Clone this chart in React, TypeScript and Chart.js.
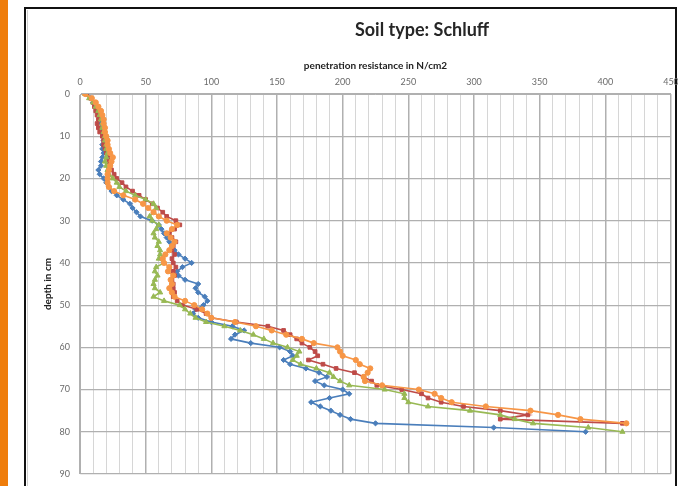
import React, { useEffect, useRef } from "react";
import { Chart, registerables } from "chart.js";

Chart.register(...registerables);

const chartTitle = "Soil type: Schluff";
const xAxisTitle = "penetration resistance in N/cm2";
const yAxisTitle = "depth in cm";

const xMin = 0;
const xMax = 450;
const xMinorStep = 10;
const xLabelStep = 50;
const yMin = 0;
const yMax = 90;
const yStep = 10;

const depthCm = [
  0, 1, 2, 3, 4, 5, 6, 7, 8, 9,
  10, 11, 12, 13, 14, 15, 16, 17, 18, 19,
  20, 21, 22, 23, 24, 25, 26, 27, 28, 29,
  30, 31, 32, 33, 34, 35, 36, 37, 38, 39,
  40, 41, 42, 43, 44, 45, 46, 47, 48, 49,
  50, 51, 52, 53, 54, 55, 56, 57, 58, 59,
  60, 61, 62, 63, 64, 65, 66, 67, 68, 69,
  70, 71, 72, 73, 74, 75, 76, 77, 78, 79, 80,
];

const seriesBlue = [
  5, 8, 10, 12, 13, 15, 16, 16, 17, 17,
  18, 18, 17, 17, 18, 17, 16, 16, 14, 15,
  18, 20, 22, 24, 28, 33, 38, 40, 43, 46,
  55, 60, 62, 64, 66, 68, 70, 72, 75, 80,
  85, 78, 74, 75, 80, 90, 88, 90, 95, 97,
  94, 88, 86, 90, 100, 116, 125, 118, 115, 130,
  152, 160, 162, 155, 160, 172, 182, 188, 179, 186,
  200, 205, 190, 176, 183, 191, 198, 206, 225, 315, 385,
];

const seriesRed = [
  5, 8, 10, 11, 12, 13, 14, 13, 14, 15,
  17, 18, 18, 19, 20, 21, 22, 23, 24, 26,
  28, 32, 35, 40, 45, 50, 55, 59, 63, 66,
  73, 76, 72, 68, 70, 73, 71, 70, 72, 70,
  71, 73, 71, 72, 70, 71, 71, 72, 71, 74,
  78, 89, 96, 100, 119, 143, 155, 160, 165, 169,
  175, 179, 181, 174, 185, 195, 209, 216, 222, 226,
  245, 260, 265, 275, 292, 320, 341, 320, 413,
];

const seriesGreen = [
  4, 7, 10, 12, 14, 15, 16, 17, 17, 18,
  19, 19, 20, 20, 21, 20, 19, 20, 21, 22,
  25, 28, 30, 35, 42, 50, 56, 58, 56, 53,
  55, 60, 58, 56, 57, 60, 59, 61, 61, 60,
  64, 58, 57, 59, 57, 56, 57, 61, 56, 64,
  76, 80, 84, 88, 96, 110, 122, 132, 140, 147,
  158, 167, 165, 162, 168, 180, 190, 193, 198, 205,
  232, 247, 247, 250, 265, 297, 320, 331, 345, 387, 413,
];

const seriesOrange = [
  4, 9, 12, 14, 16, 17, 18, 18, 19, 19,
  20, 21, 21, 22, 23, 25, 24, 23, 22, 21,
  21, 21, 22, 26, 33, 42, 48, 52, 56, 60,
  66, 74, 70, 66, 69, 72, 70, 68, 65, 63,
  64, 68, 67, 71, 69, 70, 68, 70, 72, 80,
  87, 93, 97, 100, 118, 134, 146, 157, 169, 178,
  196, 198, 200, 210, 213, 221, 219, 216, 217, 230,
  258, 270, 275, 283, 309, 343, 364, 381, 416,
];

const toPoints = (values: number[]) =>
  values.map((v, i) => ({ x: v, y: depthCm[i] }));

const FONT = "Lato, 'Liberation Sans', sans-serif";

const framePlugin = {
  id: "frameAndTitle",
  beforeDraw(chart: any) {
    const { ctx, width, height } = chart;
    ctx.save();
    ctx.fillStyle = "#ffffff";
    ctx.fillRect(0, 0, width, height);
    ctx.fillStyle = "#EF7D0B";
    ctx.fillRect(0, 0, 8, height);
    ctx.strokeStyle = "#111111";
    ctx.lineWidth = 2;
    ctx.beginPath();
    ctx.moveTo(25, height + 4);
    ctx.lineTo(25, 8);
    ctx.lineTo(676, 8);
    ctx.lineTo(676, height + 4);
    ctx.stroke();
    ctx.strokeStyle = "#cfcfcf";
    ctx.lineWidth = 1;
    ctx.beginPath();
    ctx.moveTo(27.5, height + 4);
    ctx.lineTo(27.5, 10);
    ctx.stroke();
    ctx.fillStyle = "#262626";
    ctx.font = `bold 18px ${FONT}`;
    ctx.textAlign = "center";
    ctx.textBaseline = "middle";
    ctx.fillText(chartTitle, 422, 30);
    ctx.restore();
  },
};

export default function App() {
  const canvasRef = useRef<HTMLCanvasElement | null>(null);

  useEffect(() => {
    const canvas = canvasRef.current;
    if (!canvas) return;
    const mk = (
      label: string,
      values: number[],
      color: string,
      style: string,
      order: number
    ) => ({
      label,
      data: toPoints(values),
      showLine: true,
      borderColor: color,
      backgroundColor: color,
      pointBackgroundColor: color,
      pointBorderColor: color,
      pointStyle: style,
      pointRadius: style === "triangle" ? 3 : 2.6,
      pointBorderWidth: 1,
      borderWidth: 1.6,
      order,
    });

    const chart = new Chart(canvas, {
      type: "scatter",
      data: {
        datasets: [
          mk("Series 1", seriesBlue, "#4A7EBB", "rectRot", 4),
          mk("Series 2", seriesRed, "#BE4B48", "rect", 3),
          mk("Series 3", seriesGreen, "#98B954", "triangle", 2),
          mk("Series 4", seriesOrange, "#F79646", "circle", 1),
        ] as any,
      },
      options: {
        animation: false,
        responsive: false,
        layout: { padding: { left: 30, right: 7, top: 0, bottom: 12 } },
        plugins: {
          legend: { display: false },
          tooltip: { enabled: false },
          title: { display: false },
        },
        scales: {
          x: {
            type: "linear",
            position: "top",
            min: xMin,
            max: xMax,
            afterFit: (s: any) => {
              s.height = 94;
              s.paddingLeft = 0;
              s.paddingRight = 0;
            },
            ticks: {
              stepSize: xMinorStep,
              autoSkip: false,
              maxRotation: 0,
              padding: 7,
              color: "#6b6b6b",
              font: { family: FONT, size: 9 },
              callback: (v: any) =>
                Number(v) % xLabelStep === 0 ? String(v) : "",
            },
            grid: {
              drawTicks: false,
              color: (c: any) =>
                c.tick && c.tick.value % xLabelStep === 0 ? "#b0b0b0" : "#d6d6d6",
              lineWidth: (c: any) =>
                c.tick && c.tick.value % xLabelStep === 0 ? 1.5 : 1,
            },
            border: { display: true, color: "#b0b0b0" },
            title: {
              display: true,
              text: xAxisTitle,
              color: "#222222",
              font: { family: FONT, size: 10, weight: "bold" },
              padding: { top: 60, bottom: 0 },
            },
          },
          y: {
            type: "linear",
            reverse: true,
            min: yMin,
            max: yMax,
            afterFit: (s: any) => {
              s.width = 50;
              s.paddingTop = 0;
              s.paddingBottom = 0;
            },
            ticks: {
              stepSize: yStep,
              padding: 10,
              color: "#6b6b6b",
              font: { family: FONT, size: 9 },
            },
            grid: {
              drawTicks: false,
              color: "#b0b0b0",
              lineWidth: 1.2,
            },
            border: { display: true, color: "#b0b0b0" },
            title: {
              display: true,
              text: yAxisTitle,
              color: "#222222",
              font: { family: FONT, size: 10, weight: "bold" },
              padding: { top: 12, bottom: 0 },
            },
          },
        },
      } as any,
      plugins: [framePlugin],
    });

    return () => chart.destroy();
  }, []);

  return (
    <div
      style={{
        position: "fixed",
        left: 0,
        top: 0,
        width: 678,
        height: 486,
        background: "#ffffff",
      }}
    >
      <canvas
        ref={canvasRef}
        width={678}
        height={486}
        style={{ display: "block", width: 678, height: 486 }}
      />
    </div>
  );
}
